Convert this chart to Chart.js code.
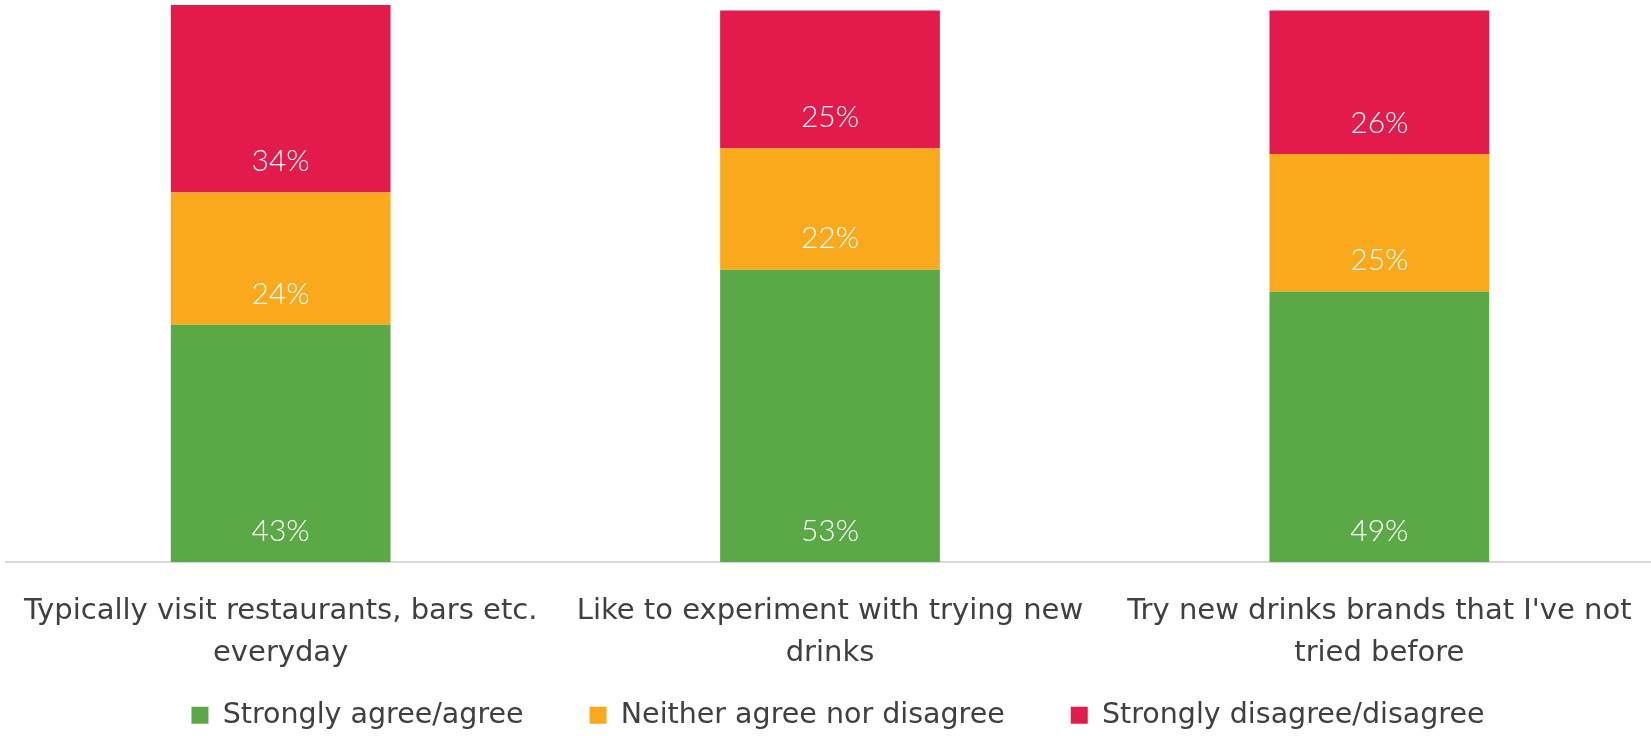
<!DOCTYPE html>
<html>
<head>
<meta charset="utf-8">
<style>
  html, body { margin: 0; padding: 0; background: #ffffff; overflow: hidden; }
  #wrap { width: 1651px; height: 736px; position: relative; overflow: hidden; }
</style>
<script src="https://cdn.jsdelivr.net/npm/chart.js@4/dist/chart.umd.min.js"></script>
</head>
<body>
<div id="wrap"><canvas id="chart" width="1654" height="736"></canvas></div>
<script>
// Survey statements (wrapped into two lines each)
const categories = [
  ["Typically visit restaurants, bars etc.", "everyday"],
  ["Like to experiment with trying new", "drinks"],
  ["Try new drinks brands that I've not", "tried before"]
];
const seriesNames = ["Strongly agree/agree", "Neither agree nor disagree", "Strongly disagree/disagree"];
const agreeValues = [43, 53, 49];
const neitherValues = [24, 22, 25];
const disagreeValues = [34, 25, 26];
const seriesColors = ["#5BA946", "#FAA91D", "#E31B4D"];

const textColor = "#404040";
const labelFamily = "'DejaVu Sans', 'Open Sans', sans-serif";
const valueFamily = "Lato, 'Open Sans', sans-serif";

// Percentage labels drawn just above the base of each stacked segment
const segmentLabels = {
  id: "segmentLabels",
  afterDatasetsDraw(chart) {
    const ctx = chart.ctx;
    ctx.save();
    ctx.fillStyle = "#ffffff";
    ctx.font = "300 30px " + valueFamily;
    ctx.textAlign = "center";
    ctx.textBaseline = "middle";
    chart.data.datasets.forEach((ds, di) => {
      const meta = chart.getDatasetMeta(di);
      meta.data.forEach((bar, i) => {
        ctx.fillText(ds.data[i] + "%", bar.x, bar.base - 31);
      });
    });
    ctx.restore();
  }
};

// The legend row keeps a slim layout box; its items are placed in the
// bottom band, slightly right of centre, after the layout has run.
const legendBand = {
  id: "legendBand",
  afterLayout(chart) {
    const lg = chart.legend;
    if (!lg) return;
    lg.top = 635;
    lg.bottom = 736;
    lg.height = lg.bottom - lg.top;
    lg.left += 8;
    lg.right += 8;
  }
};

new Chart(document.getElementById("chart"), {
  type: "bar",
  data: {
    labels: categories,
    datasets: [
      { label: seriesNames[0], data: agreeValues, backgroundColor: seriesColors[0] },
      { label: seriesNames[1], data: neitherValues, backgroundColor: seriesColors[1] },
      { label: seriesNames[2], data: disagreeValues, backgroundColor: seriesColors[2] }
    ]
  },
  options: {
    responsive: false,
    animation: false,
    layout: { padding: { top: 5, left: 6, right: 0, bottom: 0 } },
    datasets: {
      bar: { categoryPercentage: 1, barPercentage: 0.4, borderWidth: 0 }
    },
    scales: {
      x: {
        stacked: true,
        grid: { display: false },
        border: { display: true, color: "#d9d9d9", width: 2 },
        ticks: {
          color: textColor,
          font: { family: labelFamily, size: 29, lineHeight: 1.45 },
          padding: 20,
          maxRotation: 0,
          autoSkip: false
        },
        // fixed band for the two-line category labels; the wide labels
        // may run into the side margins instead of narrowing the plot
        afterFit(scale) {
          scale.height = 134;
          scale.paddingLeft = 0;
          scale.paddingRight = 0;
        }
      },
      y: {
        stacked: true,
        display: false,
        min: 0,
        max: 101
      }
    },
    plugins: {
      tooltip: { enabled: false },
      legend: {
        position: "bottom",
        maxHeight: 40,
        labels: {
          color: textColor,
          font: { family: labelFamily, size: 28.5, lineHeight: 0.9 },
          boxWidth: 17,
          boxHeight: 17,
          padding: 66
        }
      }
    }
  },
  plugins: [segmentLabels, legendBand]
});
</script>
</body>
</html>
